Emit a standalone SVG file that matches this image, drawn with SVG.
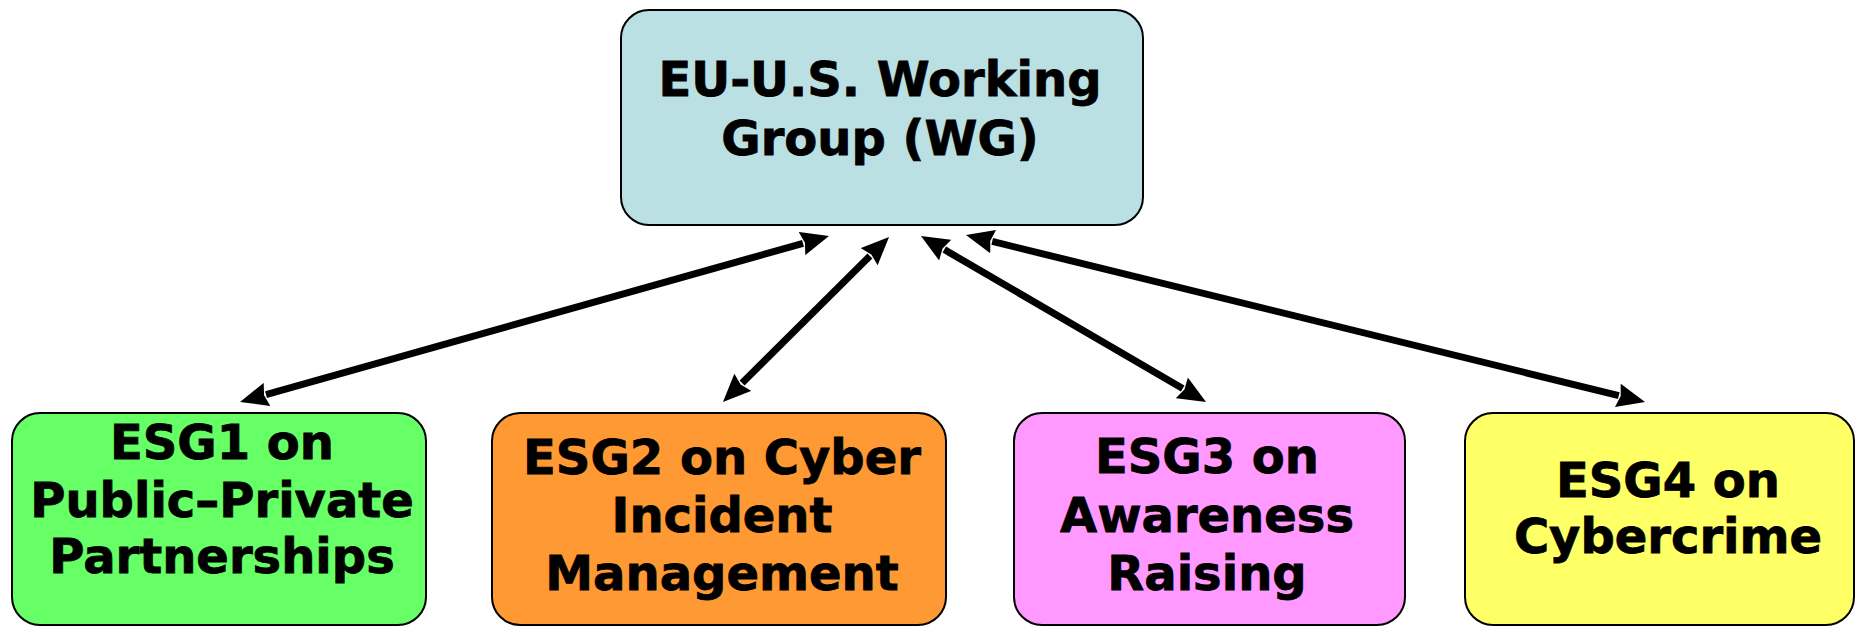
<svg xmlns="http://www.w3.org/2000/svg" width="1856" height="627" viewBox="0 0 1856 627">
  <defs>
    <style>
      .box { stroke: #000; stroke-width: 2; }
      .label { font-family: "DejaVu Sans", Verdana, "Liberation Sans", sans-serif; font-weight: bold; font-size: 48px; fill: #000; stroke: #000; stroke-width: 0.8; text-anchor: middle; }
      .link { stroke: #000; stroke-width: 7; fill: none; marker-start: url(#head); marker-end: url(#head); }
    </style>
    <marker id="head" viewBox="0 0 28 24" refX="1" refY="12" markerWidth="28" markerHeight="24" markerUnits="userSpaceOnUse" orient="auto-start-reverse">
      <path d="M0,0 L28,12 L0,24 L3,12 z" fill="#000"/>
    </marker>
  </defs>

  <rect width="1856" height="627" fill="#fff"/>

  <!-- connectors: two-way links between the working group and each sub-group -->
  <g id="connectors">
    <line class="link" x1="803" y1="243.3" x2="266" y2="394.7"/>
    <line class="link" x1="869.9" y1="256" x2="742.1" y2="383"/>
    <line class="link" x1="944.3" y1="249.6" x2="1182.7" y2="388.4"/>
    <line class="link" x1="992.2" y1="241.4" x2="1618.8" y2="395.6"/>
  </g>

  <g id="wg">
    <rect class="box" x="621" y="10" width="522" height="215" rx="28" fill="#BBE0E3"/>
    <text class="label" x="880" y="96">EU-U.S. Working</text>
    <text class="label" x="880" y="155">Group (WG)</text>
  </g>

  <g id="esg1">
    <rect class="box" x="12" y="413" width="414" height="212" rx="28" fill="#66FF66"/>
    <text class="label" x="222" y="459">ESG1 on</text>
    <text class="label" x="222" y="517">Public–Private</text>
    <text class="label" x="222" y="573">Partnerships</text>
  </g>

  <g id="esg2">
    <rect class="box" x="492" y="413" width="454" height="212" rx="28" fill="#FF9933"/>
    <text class="label" x="722" y="474">ESG2 on Cyber</text>
    <text class="label" x="722" y="532">Incident</text>
    <text class="label" x="722" y="590">Management</text>
  </g>

  <g id="esg3">
    <rect class="box" x="1014" y="413" width="391" height="212" rx="28" fill="#FF99FF"/>
    <text class="label" x="1207" y="473">ESG3 on</text>
    <text class="label" x="1207" y="532">Awareness</text>
    <text class="label" x="1207" y="590">Raising</text>
  </g>

  <g id="esg4">
    <rect class="box" x="1465" y="413" width="389" height="212" rx="28" fill="#FFFF66"/>
    <text class="label" x="1668" y="497">ESG4 on</text>
    <text class="label" x="1668" y="553">Cybercrime</text>
  </g>
</svg>
